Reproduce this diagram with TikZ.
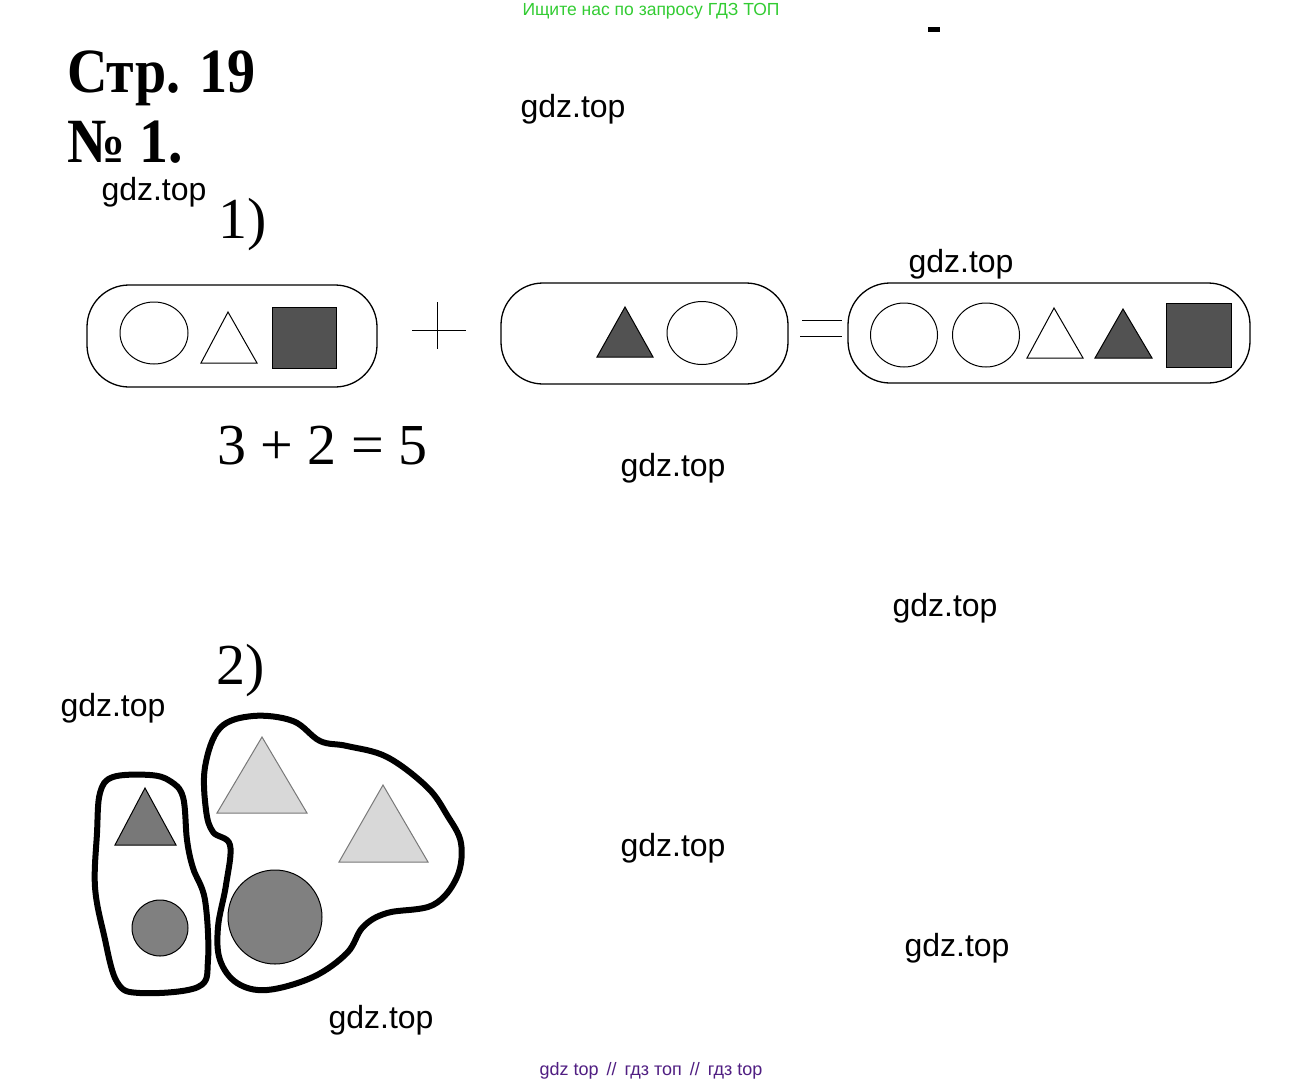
\documentclass[tikz,border=0pt]{standalone}
\usepackage{fontspec}
\setmainfont{Liberation Serif}
\newfontfamily\wm{Liberation Sans}
\definecolor{darkfill}{RGB}{82,82,82}
\definecolor{midfill}{RGB}{120,120,120}
\definecolor{circfill}{RGB}{128,128,128}
\definecolor{lightfill}{RGB}{216,216,216}
\definecolor{wgreen}{RGB}{51,204,51}
\definecolor{wpurple}{RGB}{80,30,130}
\begin{document}
\begin{tikzpicture}[x=1pt,y=-1pt,
  wmark/.style={font=\wm\fontsize{32}{32}\selectfont, inner sep=0pt},
  frame/.style={draw=black, line width=1.3pt, rounded corners=42pt},
  shp/.style={draw=black, line width=1pt},
  darkshp/.style={shp, fill=darkfill},
  lightshp/.style={draw=midfill, line width=1pt, fill=lightfill},
  blob/.style={draw=black, line width=6pt, line join=round, line cap=round},
  title/.style={font=\bfseries\fontsize{63}{63}\selectfont, inner sep=0pt, anchor=base west},
  label/.style={font=\fontsize{58}{58}\selectfont, inner sep=0pt, anchor=base west}
]
\useasboundingbox (0,0) rectangle (1305,1086);
\fill[white] (0,0) rectangle (1305,1086);

% header texts
\node[font=\wm\fontsize{17.5}{17.5}\selectfont, text=wgreen, inner sep=0pt] (hdr) at (651,11) {Ищите нас по запросу ГДЗ ТОП};
\fill[black] (928,27) rectangle (940,32);
\node[title] (page) at (67,93) {\scalebox{0.89}[1]{Стр. 19}};
\node[title] (num) at (67,163) {\scalebox{0.92}[1]{№ 1.}};
\node[label] (p1) at (218,238) {1)};
\node[label] (p2) at (216,684) {2)};
\node[label] (eq) at (217,464) {3 + 2 = 5};

% watermarks
\node[wmark] (w1) at (573,109) {gdz.top};
\node[wmark] (w2) at (154,192) {gdz.top};
\node[wmark] (w3) at (961,264) {gdz.top};
\node[wmark] (w4) at (673,468) {gdz.top};
\node[wmark] (w5) at (945,608) {gdz.top};
\node[wmark] (w6) at (113,708) {gdz.top};
\node[wmark] (w7) at (673,848) {gdz.top};
\node[wmark] (w8) at (957,948) {gdz.top};
\node[wmark] (w9) at (381,1020) {gdz.top};
\node[font=\wm\fontsize{18}{18}\selectfont, text=wpurple, inner sep=0pt] (ftr) at (651,1071) {gdz top \,//\, гдз топ \,//\, гдз top};

% box 1
\draw[frame] (87,285) rectangle (377,387);
\draw[shp] (154,333) ellipse [x radius=34, y radius=31];
\draw[shp] (228,312) -- (257,363) -- (201,363) -- cycle;
\draw[darkshp] (272,307) rectangle (336,368);

% plus
\draw[line width=1pt] (412,330) -- (466,330);
\draw[line width=1pt] (437,302) -- (437,349);

% box 2
\draw[frame] (501,283) rectangle (788,384);
\draw[darkshp] (625,307) -- (653,357) -- (597,357) -- cycle;
\draw[shp] (702,333) ellipse [x radius=35, y radius=31.5];

% equals
\draw[line width=1pt] (802,320) -- (842,320);
\draw[line width=1pt] (800,336) -- (842,336);

% box 3
\draw[frame] (848,283) rectangle (1250,383);
\draw[shp] (904,335) ellipse [x radius=33.5, y radius=32];
\draw[shp] (986,335) ellipse [x radius=33.5, y radius=32];
\draw[shp] (1054,308) -- (1083,358) -- (1027,358) -- cycle;
\draw[darkshp] (1123,309) -- (1152,358) -- (1095,358) -- cycle;
\draw[darkshp] (1166,303) rectangle (1231,367);

% part 2 shapes
\draw[shp, fill=midfill] (145,788) -- (176,845) -- (115,845) -- cycle;
\draw[shp, fill=circfill] (160,928) circle [radius=28];
\draw[lightshp] (262,737) -- (307,813) -- (217,813) -- cycle;
\draw[lightshp] (383,785) -- (428,862) -- (339,862) -- cycle;
\draw[shp, fill=circfill] (275,917) circle [radius=47];

% blobs
\draw[blob] plot[smooth cycle, tension=0.6] coordinates {
  (113,777) (150,775) (170,781) (183,797) (187,840) (193,868) (205,900)
  (208,960) (198,987) (140,993) (117,982) (104,935) (95,887) (97,833) (100,793)};
\draw[blob] plot[smooth cycle, tension=0.6] coordinates {
  (230,845) (226,885) (218,927) (220,960) (237,983) (267,990) (313,977)
  (347,953) (363,927) (387,913) (433,905) (457,877) (461,843) (447,815)
  (427,787) (387,757) (347,746) (320,741) (293,721) (253,716) (220,728)
  (205,767) (206,810) (213,832)};
\end{tikzpicture}
\end{document}
